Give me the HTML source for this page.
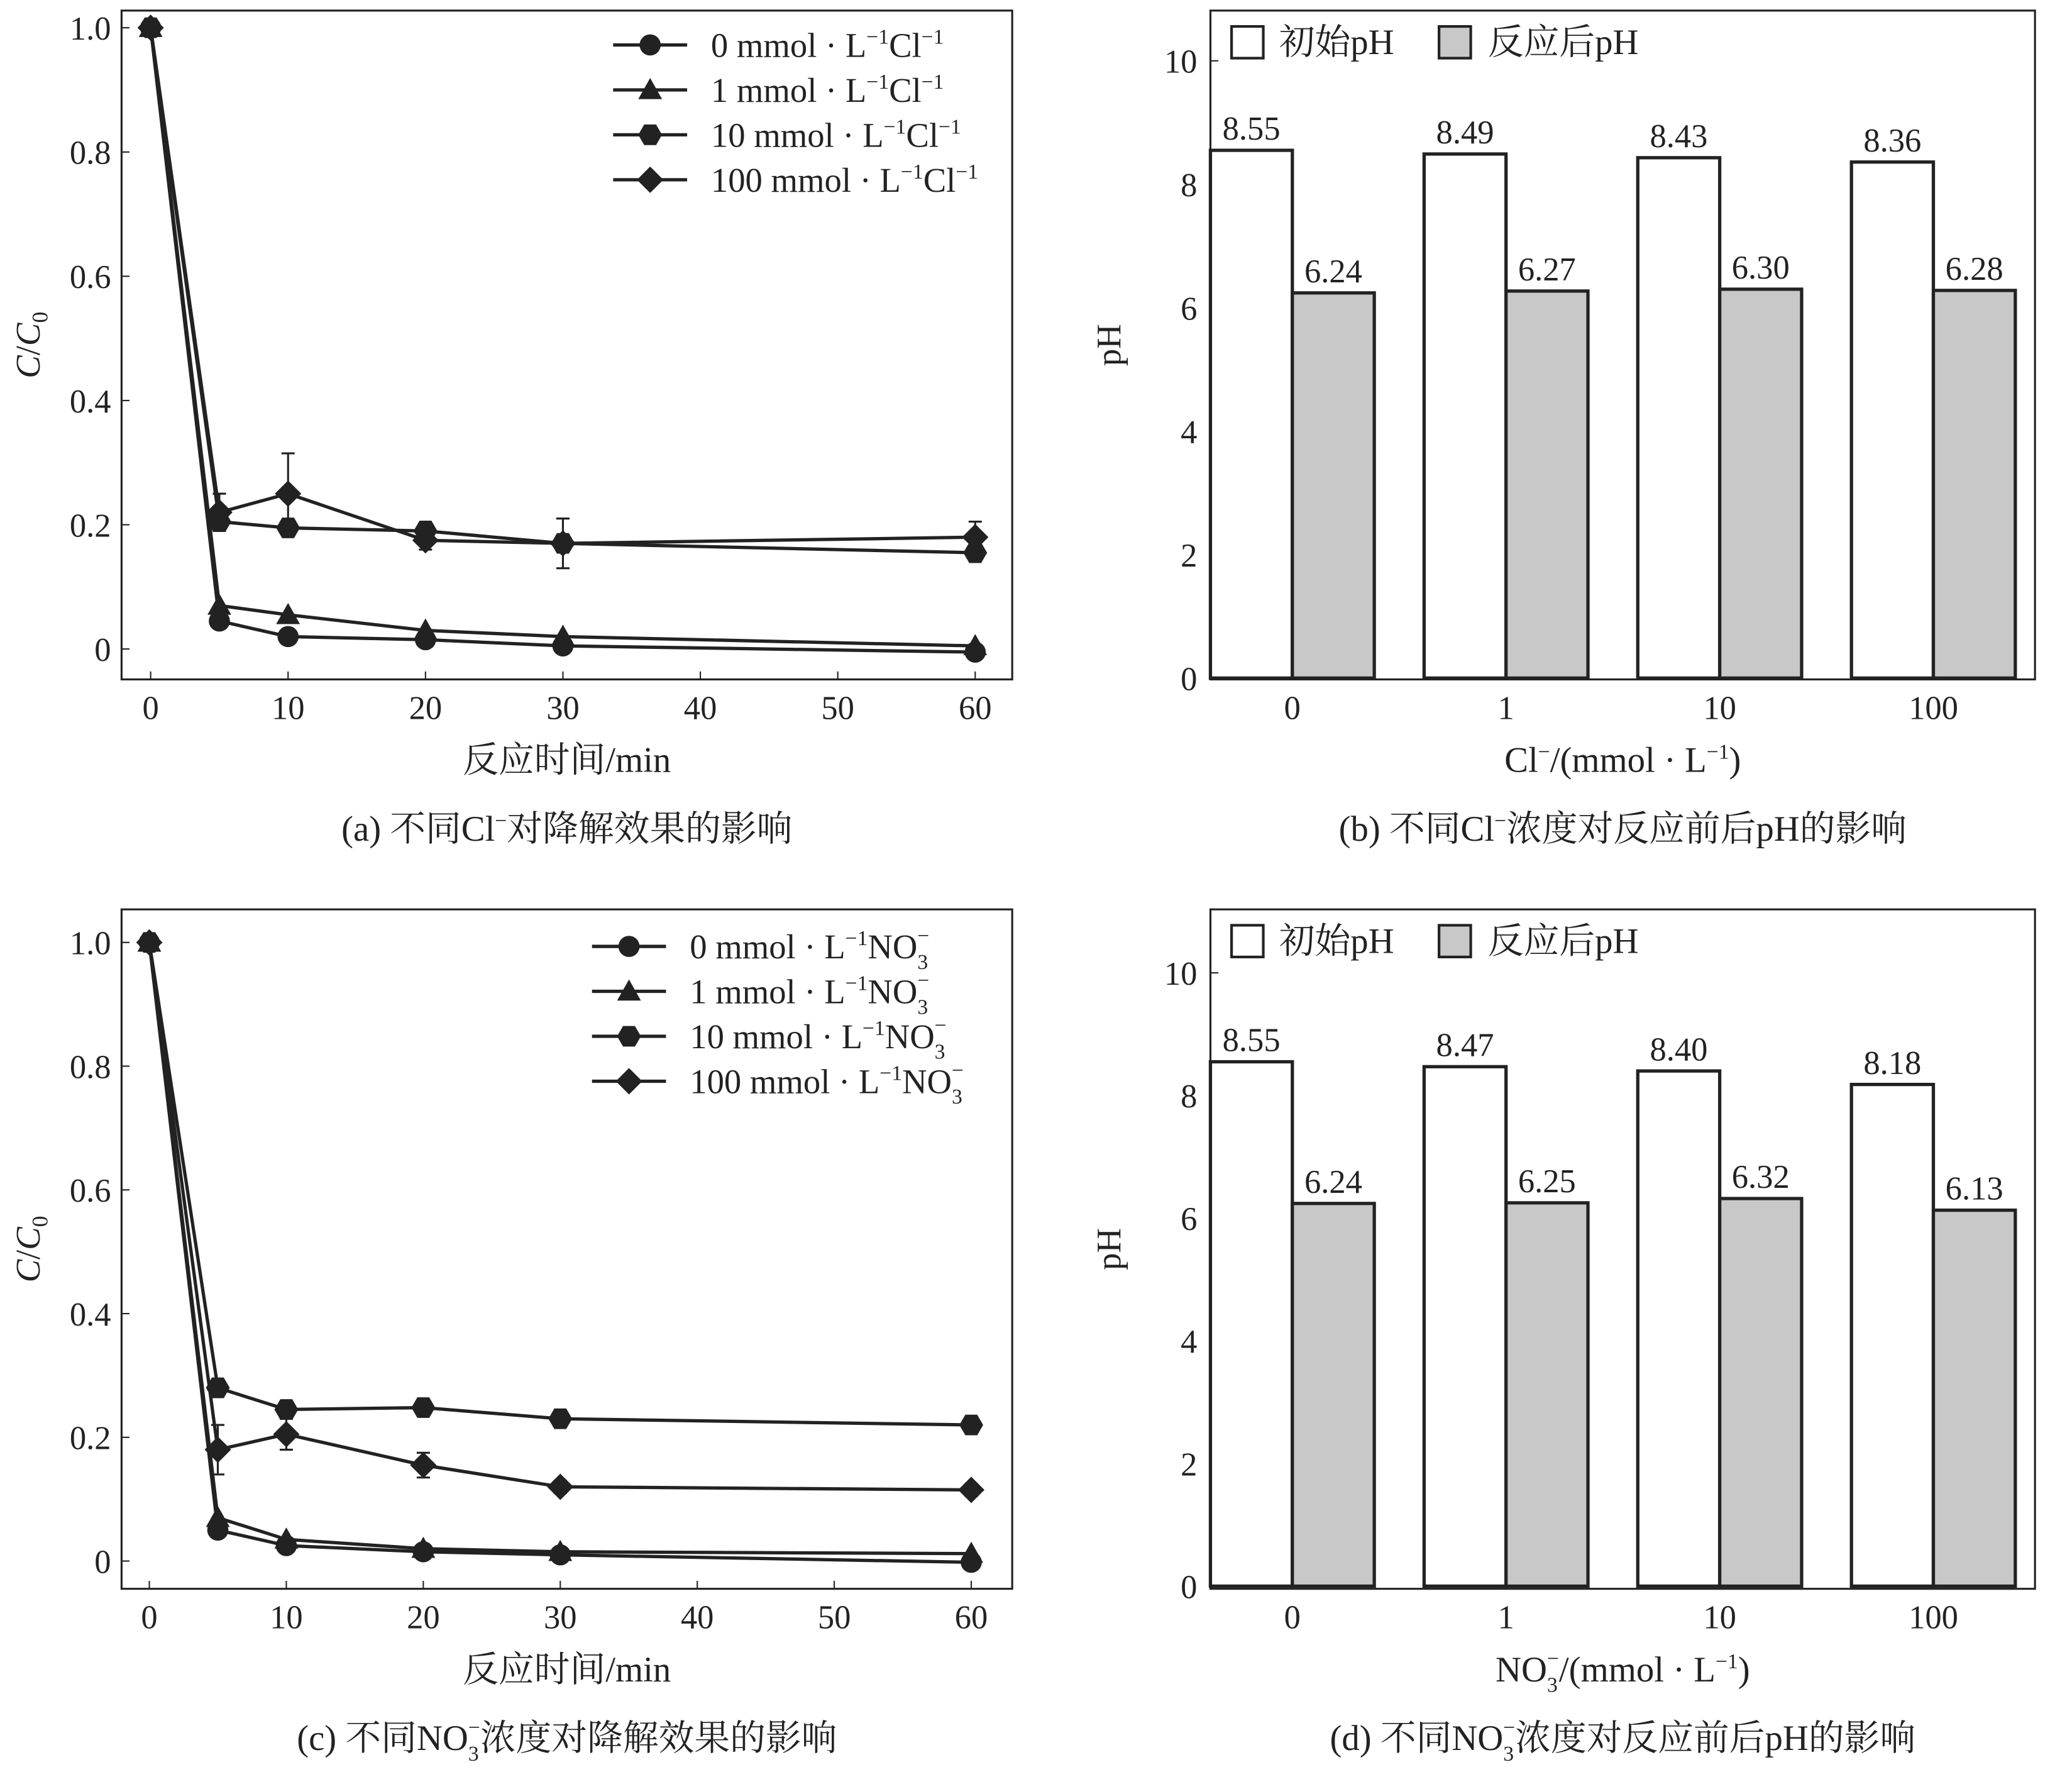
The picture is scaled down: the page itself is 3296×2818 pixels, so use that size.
<!DOCTYPE html>
<html><head><meta charset="utf-8"><style>
html,body{margin:0;padding:0;background:#fff}
svg{display:block}
text{font-family:"Liberation Serif","Noto Serif CJK SC",serif;fill:#222}
</style></head><body>
<svg id="s" width="3296" height="2818" viewBox="0 0 1568 1340.6" xmlns="http://www.w3.org/2000/svg"></svg>
<script>
const times=[0,5,10,20,30,60];
const clSeries0=[1,0.045,0.02,0.015,0.005,-0.005];
const clSeries1=[1,0.07,0.055,0.03,0.02,0.005];
const clSeries10=[1,0.205,0.195,0.19,0.17,0.155];
const clSeries100=[1,0.22,0.25,0.175,0.17,0.18];
const clErr100=[0,0.03,0.065,0.015,0.04,0.025];
const noSeries0=[1,0.05,0.025,0.015,0.01,-0.002];
const noSeries1=[1,0.07,0.035,0.02,0.015,0.012];
const noSeries10=[1,0.28,0.245,0.248,0.23,0.22];
const noSeries100=[1,0.18,0.205,0.155,0.12,0.115];
const noErr100=[0,0.04,0.025,0.02,0.01,0.01];
const xTicks=[0,10,20,30,40,50,60];
const yTicks=[0,0.2,0.4,0.6,0.8,1.0];
const phCats=["0","1","10","100"];
const phBeforeB=[8.55,8.49,8.43,8.36];
const phAfterB=[6.24,6.27,6.30,6.28];
const phBeforeD=[8.55,8.47,8.40,8.18];
const phAfterD=[6.24,6.25,6.32,6.13];
const phTicks=[0,2,4,6,8,10];

const S=document.getElementById('s');
const NS='http://www.w3.org/2000/svg';
function el(t,a,p){const e=document.createElementNS(NS,t);for(const k in a)e.setAttribute(k,a[k]);(p||S).appendChild(e);return e;}
function tx(x,y,s,a,p){const e=el('text',Object.assign({x:x,y:y,'font-size':24},a||{}),p);e.innerHTML=s;return e;}

function marker(g,type,x,y){
  let m;
  if(type==='circle'){m=el('circle',{cx:x,cy:y,r:8,fill:'#222'},g);}
  else if(type==='tri'){m=el('polygon',{points:`${x},${y-9} ${x+9},${y+7} ${x-9},${y+7}`,fill:'#222'},g);}
  else if(type==='hex'){let p=[];for(let i=0;i<6;i++){const a=Math.PI/3*i;p.push((x+9*Math.cos(a))+','+(y+9*Math.sin(a)));}m=el('polygon',{points:p.join(' '),fill:'#222'},g);}
  else {m=el('polygon',{points:`${x},${y-10} ${x+10},${y} ${x},${y+10} ${x-10},${y}`,fill:'#222'},g);}
  
  
}

function linePanel(id,box,x0,x60,y0,y1,series,errs,legend,caption){
  const g=el('g',{},S);
  
  
  const X=v=>x0+(x60-x0)*v/60, Y=v=>y0+(y1-y0)*v;
  const f=el('rect',{x:box[0],y:box[1],width:box[2]-box[0],height:box[3]-box[1],fill:'none',stroke:'#222','stroke-width':1.5},g);
  
  
  xTicks.forEach(t=>{el('line',{x1:X(t),x2:X(t),y1:box[3],y2:box[3]-6,stroke:'#222'},g);
    const l=tx(X(t),box[3]+30,t,{'text-anchor':'middle','font-size':25},g);
    });
  yTicks.forEach(t=>{el('line',{x1:box[0],x2:box[0]+6,y1:Y(t),y2:Y(t),stroke:'#222'},g);
    const l=tx(box[0]-8,Y(t)+9,t===0?'0':t.toFixed(1),{'text-anchor':'end','font-size':25},g);
    });
  const yt=tx(0,0,'<tspan font-style="italic">C</tspan>/<tspan font-style="italic">C</tspan><tspan font-size="17" dy="6">0</tspan>',{transform:`translate(30,${(box[1]+box[3])/2}) rotate(-90)`,'text-anchor':'middle','font-size':26},g);
  
  const xt=tx((box[0]+box[2])/2,box[3]+70,'反应时间/min',{'text-anchor':'middle','font-size':27},g);
  
  const ct=tx((box[0]+box[2])/2,box[3]+122,caption,{'text-anchor':'middle','font-size':27},g);
  
  const types=['circle','tri','hex','dia'];
  series.forEach((s,i)=>{
    const pl=el('polyline',{points:s.map((v,j)=>X(times[j])+','+Y(v)).join(' '),fill:'none',stroke:'#222','stroke-width':2.5},g);
    
    if(errs[i]) s.forEach((v,j)=>{const e=errs[i][j];if(e>0){
      el('line',{x1:X(times[j]),x2:X(times[j]),y1:Y(v-e),y2:Y(v+e),stroke:'#222','stroke-width':1.5},g);
      el('line',{x1:X(times[j])-5,x2:X(times[j])+5,y1:Y(v+e),y2:Y(v+e),stroke:'#222','stroke-width':1.5},g);
      el('line',{x1:X(times[j])-5,x2:X(times[j])+5,y1:Y(v-e),y2:Y(v-e),stroke:'#222','stroke-width':1.5},g);}});
    s.forEach((v,j)=>marker(g,types[i],X(times[j]),Y(v)));
  });
  legend.forEach((L,i)=>{
    const ly=L.y;
    const lg=el('g',{},g);
    
    el('line',{x1:L.x,x2:L.x+56,y1:ly,y2:ly,stroke:'#222','stroke-width':2.5},lg);
    marker(lg,types[i],L.x+28,ly);
    tx(L.x+74,ly+9,L.t,{'font-size':26},lg);
  });
}

function barPanel(id,box,y0,y10,before,after,xTitle,caption){
  const g=el('g',{},S);
  
  
  const Y=v=>y0+(y10-y0)*v/10;
  const f=el('rect',{x:box[0],y:box[1],width:box[2]-box[0],height:box[3]-box[1],fill:'none',stroke:'#222','stroke-width':1.5},g);
  
  phTicks.forEach(t=>{el('line',{x1:box[0],x2:box[0]+6,y1:Y(t),y2:Y(t),stroke:'#222'},g);
    const l=tx(box[0]-10,Y(t)+9,t,{'text-anchor':'end','font-size':25},g);
    });
  const yt=tx(0,0,'pH',{transform:`translate(848,${(box[1]+box[3])/2}) rotate(-90)`,'text-anchor':'middle','font-size':26},g);
  
  const step=161.7, c0=978, w=62;
  phCats.forEach((c,i)=>{
    const cx=c0+step*i;
    const b1=el('rect',{x:cx-w,y:Y(before[i]),width:w,height:Y(0)-Y(before[i]),fill:'#fff',stroke:'#222','stroke-width':2.5},g);
    
    const b2=el('rect',{x:cx,y:Y(after[i]),width:w,height:Y(0)-Y(after[i]),fill:'#c8c8c8',stroke:'#222','stroke-width':2.5},g);
    
    tx(cx-w/2,Y(before[i])-8,before[i].toFixed(2),{'text-anchor':'middle','font-size':25},g);
    tx(cx+w/2,Y(after[i])-8,after[i].toFixed(2),{'text-anchor':'middle','font-size':25},g);
    const l=tx(cx,box[3]+30,c,{'text-anchor':'middle','font-size':25},g);
    
  });
  const xt=tx((box[0]+box[2])/2,box[3]+70,xTitle,{'text-anchor':'middle','font-size':27},g);
  
  const ct=tx((box[0]+box[2])/2,box[3]+122,caption,{'text-anchor':'middle','font-size':27},g);
  
  const lg1=el('g',{},g);
  el('rect',{x:932,y:box[1]+12,width:24,height:24,fill:'#fff',stroke:'#222','stroke-width':2},lg1);
  tx(968,box[1]+33,'初始pH',{'font-size':27},lg1);
  const lg2=el('g',{},g);
  el('rect',{x:1089,y:box[1]+12,width:24,height:24,fill:'#c8c8c8',stroke:'#222','stroke-width':2},lg2);
  tx(1126,box[1]+33,'反应后pH',{'font-size':27},lg2);
}

const sup='<tspan font-size="16" dy="-10">−1</tspan><tspan dy="10">';
linePanel('chart-a',[92,8,766,514],114,738,491,21,[clSeries0,clSeries1,clSeries10,clSeries100],[null,null,null,clErr100],
 [0,1,10,100].map((n,i)=>({x:464,y:34+i*34,t:`${n} mmol · L${sup}Cl</tspan><tspan font-size="16" dy="-10">−1</tspan>`})),
 '(a) 不同Cl<tspan font-size="16" dy="-10">−</tspan><tspan dy="10">对降解效果的影响</tspan>');
barPanel('chart-b',[916,8,1540,514],513,46,phBeforeB,phAfterB,'Cl<tspan font-size="16" dy="-10">−</tspan><tspan dy="10">/(mmol · L</tspan><tspan font-size="16" dy="-10">−1</tspan><tspan dy="10">)</tspan>','(b) 不同Cl<tspan font-size="16" dy="-10">−</tspan><tspan dy="10">浓度对反应前后pH的影响</tspan>');
const no3='NO<tspan font-size="16" dy="8">3</tspan><tspan font-size="16" dx="-8" dy="-20">−</tspan><tspan dy="12">';
linePanel('chart-c',[92,688,766,1202],113,735,1181,713,[noSeries0,noSeries1,noSeries10,noSeries100],[null,null,null,noErr100],
 [0,1,10,100].map((n,i)=>({x:448,y:716+i*34,t:`${n} mmol · L${sup}${no3}</tspan></tspan>`})),
 `(c) 不同${no3}浓度对降解效果的影响</tspan>`);
barPanel('chart-d',[916,688,1540,1202],1200,736,phBeforeD,phAfterD,`${no3}/(mmol · L</tspan><tspan font-size="16" dy="-10">−1</tspan><tspan dy="10">)</tspan>`,`(d) 不同${no3}浓度对反应前后pH的影响</tspan>`);
</script>
</body></html>
